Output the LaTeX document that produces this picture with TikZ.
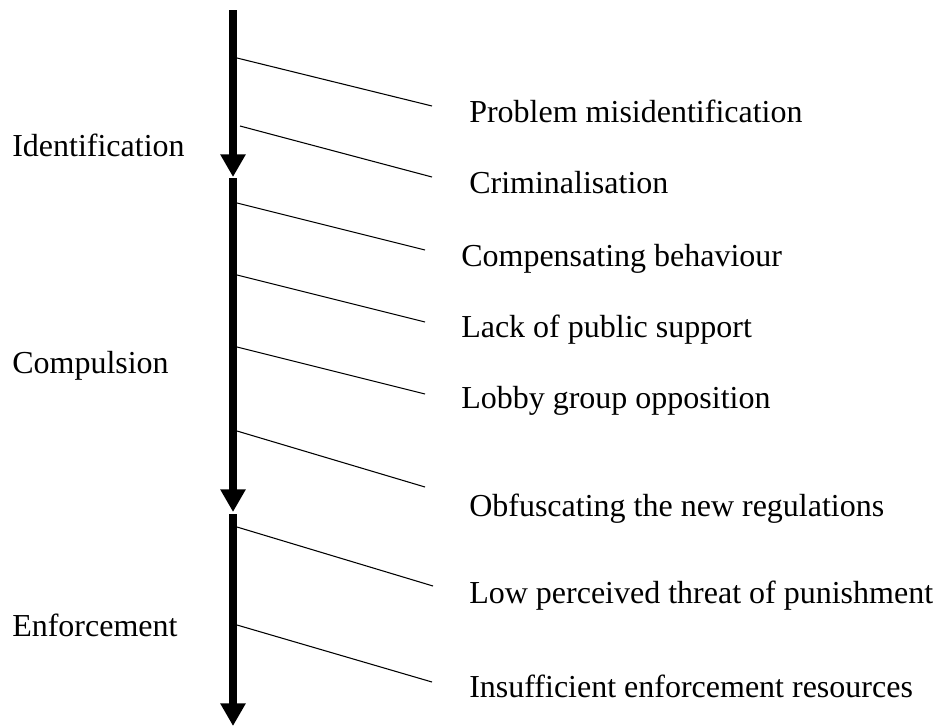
\documentclass[tikz,border=0pt]{standalone}
\usepackage{fontspec}
\setmainfont{Liberation Serif}
\usepackage{tikz}
\usetikzlibrary{arrows.meta}

\begin{document}
\begin{tikzpicture}[
    x=0.75pt, y=-0.75pt,
    phase/.style={anchor=base west, inner sep=0pt, font=\fontsize{24}{28}\selectfont},
    issue/.style={anchor=base west, inner sep=0pt, font=\fontsize{24}{28}\selectfont},
    stage/.style={-{Triangle[length=17pt, width=18pt]}, line width=6pt, color=black},
    link/.style={line width=0.8pt, color=black}
]
    \useasboundingbox (0,0) rectangle (937,726);

    % stage arrows
    \coordinate (s1) at (233,10);
    \coordinate (t1) at (233,177);
    \coordinate (s2) at (233,178);
    \coordinate (t2) at (233,512);
    \coordinate (s3) at (233,514);
    \coordinate (t3) at (233,726);
    \draw [stage] (s1) -- (t1);
    \draw [stage] (s2) -- (t2);
    \draw [stage] (s3) -- (t3);

    % phase labels
    \node (ident) [phase] at (12,156) {Identification};
    \node (compul) [phase] at (12,373) {Compulsion};
    \node (enforce) [phase] at (12,636) {Enforcement};

    % barriers
    \node (prob) [issue] at (469,122) {Problem misidentification};
    \node (crim) [issue] at (469,193) {Criminalisation};
    \node (comp) [issue] at (461,266) {Compensating behaviour};
    \node (lack) [issue] at (461,337) {Lack of public support};
    \node (lobby) [issue] at (461,408) {Lobby group opposition};
    \node (obf) [issue] at (469,516) {Obfuscating the new regulations};
    \node (threat) [issue] at (469,603) {Low perceived threat of punishment};
    \node (res) [issue] at (469,697) {Insufficient enforcement resources};

    % line ends
    \coordinate (b1) at (237,58);   \coordinate (e1) at (432,106);
    \coordinate (b2) at (240,126);  \coordinate (e2) at (432,177);
    \coordinate (b3) at (237,203);  \coordinate (e3) at (425,250);
    \coordinate (b4) at (237,275);  \coordinate (e4) at (425,322);
    \coordinate (b5) at (237,347);  \coordinate (e5) at (425,394);
    \coordinate (b6) at (237,431);  \coordinate (e6) at (425,487);
    \coordinate (b7) at (237,527);  \coordinate (e7) at (433,586);
    \coordinate (b8) at (237,625);  \coordinate (e8) at (432,682);

    \foreach \i in {1,...,8}
        \draw [link] (b\i) -- (e\i);
\end{tikzpicture}
\end{document}
